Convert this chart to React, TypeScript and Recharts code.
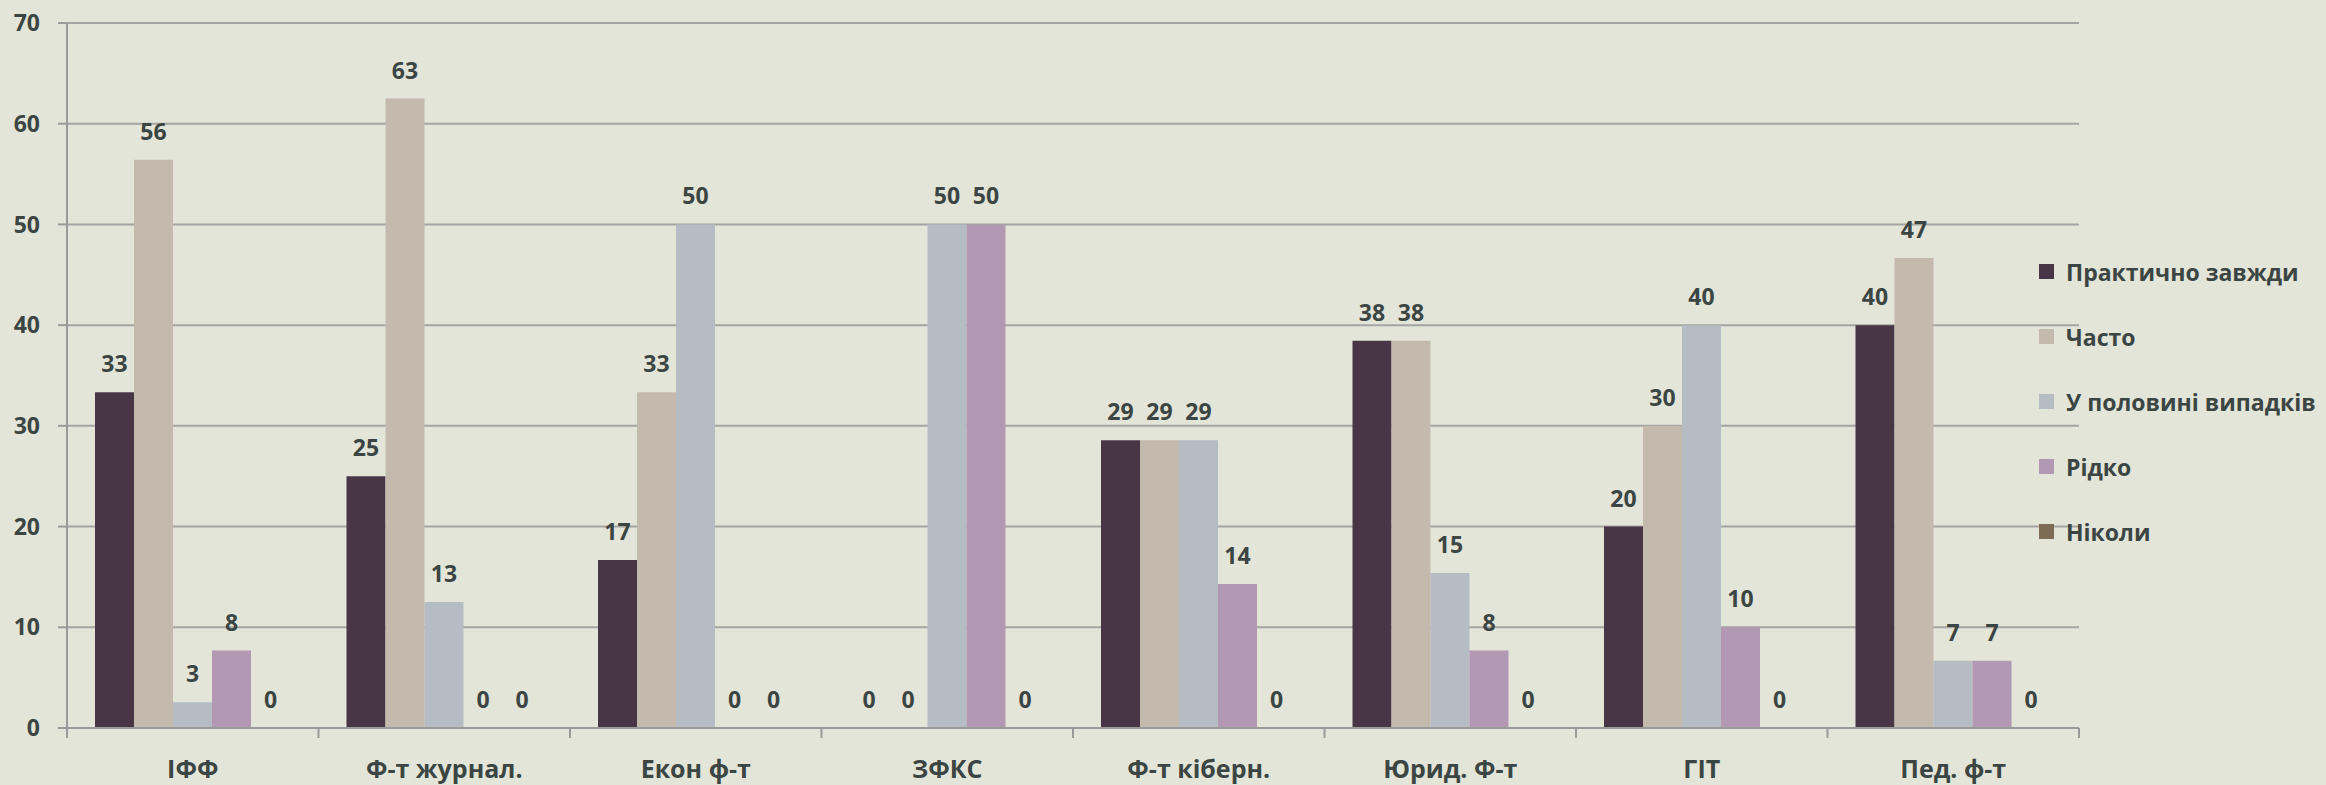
import React from "react";
import {
  BarChart,
  Bar,
  XAxis,
  YAxis,
  CartesianGrid,
  Legend,
  LabelList,
} from "recharts";

// faculties along the x axis
const faculties = [
  "ІФФ",
  "Ф-т журнал.",
  "Екон ф-т",
  "ЗФКС",
  "Ф-т кіберн.",
  "Юрид. Ф-т",
  "ГІТ",
  "Пед. ф-т",
];

// answer options (series)
const seriesNames = [
  "Практично завжди",
  "Часто",
  "У половині випадків",
  "Рідко",
  "Ніколи",
];

// percentages per faculty, one array per answer option
const almostAlways = [33.33, 25, 16.67, 0, 28.57, 38.46, 20, 40];
const often = [56.41, 62.5, 33.33, 0, 28.57, 38.46, 30, 46.67];
const halfCases = [2.56, 12.5, 50, 50, 28.57, 15.38, 40, 6.67];
const rarely = [7.69, 0, 0, 50, 14.29, 7.69, 10, 6.67];
const never = [0, 0, 0, 0, 0, 0, 0, 0];

const yTicks = [0, 10, 20, 30, 40, 50, 60, 70];

const colors = ["#483646", "#c3baad", "#b5bcc4", "#b398b3", "#7d6c55"];
const TEXT = "#3b4543";
const AXIS = "#9a9b98";
const FONT = "'Open Sans', sans-serif";

const keys = ["s0", "s1", "s2", "s3", "s4"];
const seriesValues = [almostAlways, often, halfCases, rarely, never];

const data = faculties.map((name, i) => {
  const row: Record<string, string | number> = { name };
  seriesValues.forEach((arr, j) => {
    row[keys[j]] = arr[i];
  });
  return row;
});

const TICK_SIZE = 10;
const TICK_MARGIN = 22;

// category label plus Excel-style tick marks between categories
const CategoryTick = (props: any) => {
  const { x, y, payload, index } = props;
  const half = payload.offset || 0;
  const axisY = y - TICK_SIZE - TICK_MARGIN;
  return (
    <g>
      <line x1={x - half} x2={x - half} y1={axisY} y2={axisY + TICK_SIZE} stroke={AXIS} strokeWidth={2} />
      {index === faculties.length - 1 && (
        <line x1={x + half} x2={x + half} y1={axisY} y2={axisY + TICK_SIZE} stroke={AXIS} strokeWidth={2} />
      )}
      <text
        x={x}
        y={y}
        dy="0.71em"
        textAnchor="middle"
        fill={TEXT}
        fontSize={25}
        fontWeight={700}
        fontFamily={FONT}
      >
        {payload.value}
      </text>
    </g>
  );
};

const renderLegend = () => (
  <div style={{ fontFamily: FONT, fontWeight: 700, fontSize: 23, color: TEXT }}>
    {seriesNames.map((s, i) => (
      <div
        key={s}
        style={{ display: "flex", alignItems: "center", height: 65, whiteSpace: "nowrap" }}
      >
        <span
          style={{
            display: "inline-block",
            width: 15,
            height: 15,
            background: colors[i],
            marginRight: 12,
          }}
        />
        {s}
      </div>
    ))}
  </div>
);

// value label drawn above each bar, zero bars included
const BarValueLabel = (props: any) => {
  const { x, y, width, value } = props;
  if (value == null) return null;
  return (
    <text
      x={x + width / 2}
      y={y - 20}
      textAnchor="middle"
      fill={TEXT}
      fontSize={23}
      fontWeight={700}
      fontFamily={FONT}
    >
      {String(Math.round(Number(value)))}
    </text>
  );
};

const App: React.FC = () => {
  return (
    <div style={{ position: "absolute", left: 0, top: 0, background: "#e3e5d8" }}>
      <BarChart
        width={2326}
        height={785}
        data={data}
        margin={{ top: 23, right: 247, left: 0, bottom: 0 }}
        barGap={0}
        barSize={39}
      >
        <CartesianGrid vertical={false} stroke="#a4a5a2" strokeWidth={2} />
        <XAxis
          dataKey="name"
          axisLine={{ stroke: AXIS, strokeWidth: 2 }}
          tickLine={false}
          tickSize={TICK_SIZE}
          tickMargin={TICK_MARGIN}
          height={57}
          interval={0}
          tick={<CategoryTick />}
        />
        <YAxis
          domain={[0, 70]}
          ticks={yTicks}
          width={67}
          axisLine={{ stroke: AXIS, strokeWidth: 2 }}
          tickLine={{ stroke: AXIS, strokeWidth: 2 }}
          tickSize={9}
          tickMargin={18}
          tick={{ fill: TEXT, fontSize: 23, fontWeight: 700, fontFamily: FONT }}
        />
        <Legend
          layout="vertical"
          align="center"
          verticalAlign="middle"
          content={renderLegend}
          wrapperStyle={{ left: 2039, top: 239, width: 290 }}
        />
        {keys.map((k, j) => (
          <Bar
            key={k}
            dataKey={k}
            name={seriesNames[j]}
            fill={colors[j]}
            minPointSize={(v: number) => (v === 0 ? 0.01 : 0)}
            isAnimationActive={false}
          >
            <LabelList dataKey={k} content={<BarValueLabel />} />
          </Bar>
        ))}
      </BarChart>
    </div>
  );
};

export default App;
